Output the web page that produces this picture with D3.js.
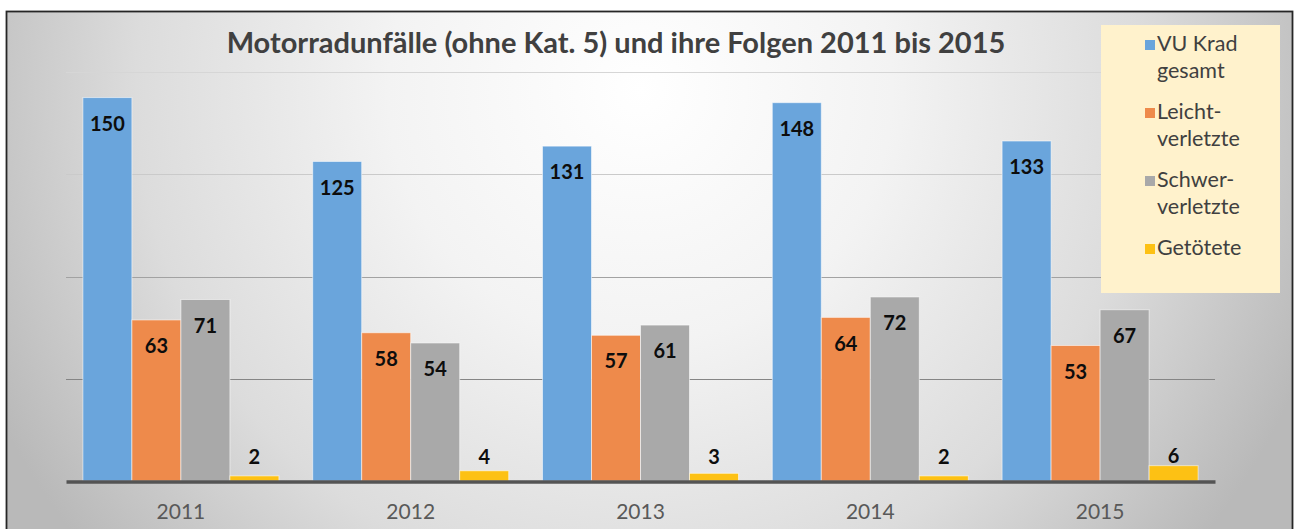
<!DOCTYPE html>
<html>
<head>
<meta charset="utf-8">
<script src="https://cdn.jsdelivr.net/npm/d3@7"></script>
<style>
    body { margin: 0; background: #fff; }
    svg { display: block; font-family: Lato, "Open Sans", sans-serif; }
</style>
</head>
<body>
<div class="container"></div>
<script>
let years = ["2011", "2012", "2013", "2014", "2015"];
let seriesNames = ["VU Krad gesamt", "Leichtverletzte", "Schwerverletzte", "Getötete"];
let legendLines = [["VU Krad", "gesamt"], ["Leicht-", "verletzte"], ["Schwer-", "verletzte"], ["Getötete"]];
let vuKrad = [150, 125, 131, 148, 133];
let leicht = [63, 58, 57, 64, 53];
let schwer = [71, 54, 61, 72, 67];
let getoetet = [2, 4, 3, 2, 6];
let yTicks = [40, 80, 120, 160];
let title = "Motorradunfälle (ohne Kat. 5) und ihre Folgen 2011 bis 2015";

let colors = ["#6aa5dc", "#ee8a4b", "#a9a9a9", "#fdc114"];
let series = [vuKrad, leicht, schwer, getoetet];

let W = 1296, H = 529;
let plot = { left: 66, right: 1215, top: 72, bottom: 481 };

let svg = d3.select(".container")
    .append("svg")
    .attr("width", W)
    .attr("height", H);

let defs = svg.append("defs");

// chart background: light in the middle, grey towards the edges
let bg = defs.append("radialGradient")
    .attr("id", "bg")
    .attr("gradientUnits", "userSpaceOnUse")
    .attr("cx", 640).attr("cy", 90).attr("r", 720);
bg.append("stop").attr("offset", 0).attr("stop-color", "#ffffff");
bg.append("stop").attr("offset", 0.35).attr("stop-color", "#f3f3f3");
bg.append("stop").attr("offset", 0.7).attr("stop-color", "#dcdcdc");
bg.append("stop").attr("offset", 1).attr("stop-color", "#b9b9b9");

svg.append("rect")
    .attr("x", 6.5)
    .attr("y", 11.5)
    .attr("width", 1286)
    .attr("height", 540)
    .attr("fill", "url(#bg)")
    .attr("stroke", "#262626")
    .attr("stroke-width", 1.8);

let x0 = d3.scaleBand()
    .domain(years)
    .range([plot.left, plot.right])
    .paddingInner(0.147)
    .paddingOuter(0.0735);

let x1 = d3.scaleBand()
    .domain(d3.range(series.length))
    .range([0, x0.bandwidth()]);

let y = d3.scaleLinear()
    .domain([0, 160])
    .range([plot.bottom, plot.top]);

// gridlines fade out towards the top
let gridColor = d3.scaleLinear()
    .domain([40, 80, 120, 160])
    .range(["#858585", "#a2a2a2", "#cacaca", "#d6d6d6"]);

svg.append("g")
    .attr("class", "grid")
    .attr("transform", "translate(" + plot.left + ",0)")
    .call(d3.axisLeft(y).tickValues(yTicks).tickSize(-(plot.right - plot.left)).tickFormat("").offset(0))
    .call(g => g.select(".domain").remove())
    .call(g => g.selectAll(".tick")
        .attr("transform", d => "translate(0," + (Math.round(y(d)) + 0.5) + ")"))
    .call(g => g.selectAll("line")
        .attr("stroke", d => gridColor(d))
        .attr("stroke-width", 1.2));

// bars
let groups = svg.append("g")
    .selectAll("g")
    .data(years)
    .enter()
    .append("g")
    .attr("transform", function (d) {
        return "translate(" + x0(d) + ",0)";
    });

groups.selectAll("rect")
    .data(function (d, j) {
        return series.map(function (s, i) { return { i: i, v: s[j] }; });
    })
    .enter()
    .append("rect")
    .attr("x", d => x1(d.i))
    .attr("y", d => y(d.v))
    .attr("width", x1.bandwidth())
    .attr("height", d => y(0) - y(d.v))
    .attr("fill", d => colors[d.i])
    .attr("stroke", "#ffffff")
    .attr("stroke-opacity", 0.55)
    .attr("stroke-width", 1);

groups.selectAll("text")
    .data(function (d, j) {
        return series.map(function (s, i) { return { i: i, v: s[j] }; });
    })
    .enter()
    .append("text")
    .attr("x", d => x1(d.i) + x1.bandwidth() / 2)
    .attr("y", function (d) {
        if (d.i < 3) return y(d.v) + 26;
        return Math.min(y(d.v) - 10, y(0) - 24);
    })
    .attr("dy", "0.36em")
    .attr("text-anchor", "middle")
    .style("font-weight", "bold")
    .style("font-size", "20px")
    .attr("fill", "#0d0d0d")
    .text(d => d.v);

// category axis
svg.append("g")
    .attr("class", "axis")
    .attr("transform", "translate(0," + (plot.bottom + 0.5) + ")")
    .call(d3.axisBottom(x0).tickSize(0).tickSizeOuter(0).tickPadding(23))
    .call(g => g.select(".domain").attr("stroke", "#545454").attr("stroke-width", 3.5))
    .call(g => g.selectAll("text")
        .style("font-size", "21px")
        .style("font-family", "Lato, 'Open Sans', sans-serif")
        .attr("fill", "#595959"));

// title
svg.append("text")
    .attr("x", 616)
    .attr("y", 53)
    .attr("text-anchor", "middle")
    .style("font-weight", "bold")
    .style("font-size", "29px")
    .attr("fill", "#404040")
    .text(title);

// legend
let legend = svg.append("g").attr("class", "legend");
legend.append("rect")
    .attr("x", 1101)
    .attr("y", 25)
    .attr("width", 179)
    .attr("height", 268)
    .attr("fill", "#fff2cc");

let items = legend.selectAll("g.item")
    .data(seriesNames)
    .enter()
    .append("g")
    .attr("class", "item")
    .attr("transform", (d, i) => "translate(1145," + (51 + i * 68) + ")");

items.append("rect")
    .attr("x", 0)
    .attr("y", -11)
    .attr("width", 10)
    .attr("height", 10)
    .attr("fill", (d, i) => colors[i]);

items.each(function (d, i) {
    let t = d3.select(this).append("text")
        .attr("x", 12)
        .style("font-size", "21.5px")
        .attr("fill", "#404040");
    legendLines[i].forEach(function (line, k) {
        t.append("tspan")
            .attr("x", 12)
            .attr("y", k * 27)
            .text(line);
    });
});
</script>
</body>
</html>
